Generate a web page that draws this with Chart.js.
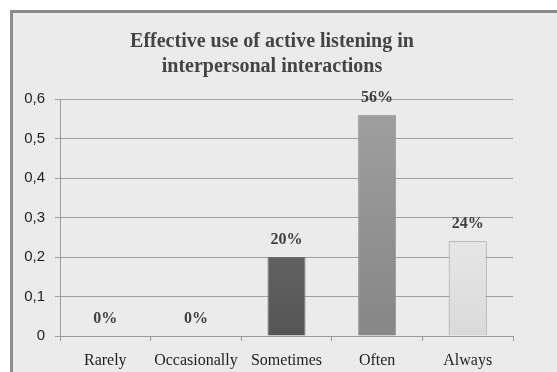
<!DOCTYPE html>
<html>
<head>
<meta charset="utf-8">
<script src="https://cdn.jsdelivr.net/npm/chart.js@4.4.1/dist/chart.umd.min.js"></script>
<style>
  html, body { margin: 0; padding: 0; background: #fff; }
  #frame {
    position: absolute; left: 10px; top: 10px;
    width: 544px; height: 359px;
    border-left: 3px solid #8c8c8c; border-top: 3px solid #8c8c8c;
    background: #ebebeb;
  }
  #wrap { position: absolute; left: 0; top: 0; width: 544px; height: 359px; }
</style>
</head>
<body>
<div id="frame"><div id="wrap"><canvas id="chart"></canvas></div></div>
<script>
/* ===== DATA ===== */
const CATEGORIES = ["Rarely", "Occasionally", "Sometimes", "Often", "Always"];
const SHARES = [0, 0, 0.2, 0.56, 0.24];
const Y_TICKS = [0, 0.1, 0.2, 0.3, 0.4, 0.5, 0.6];
const TITLE = ["Effective use of active listening in", "interpersonal interactions"];

/* bar shading, top -> bottom */
const SHADES = [
  ["#8a8a8a", "#6a6a6a"],
  ["#8a8a8a", "#6a6a6a"],
  ["#7a7a7a", "#555555"],
  ["#a0a0a0", "#868686"],
  ["#f8f8f8", "#dadada"],
];
const EDGES = ["#777", "#777", "#6e6e6e", "#9a9a9a", "#999"];

function barGradient(ctx) {
  const chart = ctx.chart;
  const area = chart.chartArea;
  if (!area) return SHADES[ctx.dataIndex][1];
  const el = ctx.element;
  const top = el && isFinite(el.y) ? el.y : area.top;
  const bottom = chart.scales.y.getPixelForValue(0);
  if (bottom - top < 1) return SHADES[ctx.dataIndex][1];
  const g = chart.ctx.createLinearGradient(0, top, 0, bottom);
  g.addColorStop(0, SHADES[ctx.dataIndex][0]);
  g.addColorStop(1, SHADES[ctx.dataIndex][1]);
  return g;
}

/* title sits a little right of the full-width centre */
const titleNudge = {
  id: "titleNudge",
  afterLayout(chart) {
    if (chart.titleBlock) chart.titleBlock.left = 18;
  },
};

/* ===== VALUE LABELS ===== */
const valueLabels = {
  id: "valueLabels",
  afterDatasetsDraw(chart) {
    const c = chart.ctx;
    const meta = chart.getDatasetMeta(0);
    c.save();
    c.font = "bold 16px 'Liberation Serif', 'Times New Roman', serif";
    c.fillStyle = "#404040";
    c.textAlign = "center";
    c.textBaseline = "middle";
    meta.data.forEach((bar, i) => {
      c.fillText(Math.round(SHARES[i] * 100) + "%", bar.x, bar.y - 17);
    });
    c.restore();
  },
};

new Chart(document.getElementById("chart"), {
  type: "bar",
  data: {
    labels: CATEGORIES,
    datasets: [{
      data: SHARES,
      backgroundColor: barGradient,
      borderColor: EDGES,
      borderWidth: 1,
      borderSkipped: "bottom",
      barPercentage: 0.42,
      categoryPercentage: 1,
    }],
  },
  options: {
    responsive: true,
    maintainAspectRatio: false,
    animation: false,
    layout: { padding: { left: 0, right: 44, top: 0, bottom: 0 } },
    plugins: {
      legend: { display: false },
      tooltip: { enabled: false },
      title: {
        display: true,
        text: TITLE,
        color: "#444",
        font: { family: "'Liberation Serif', 'Times New Roman', serif", size: 20, weight: "bold", lineHeight: 1.25 },
        padding: { top: 16, bottom: 20 },
      },
    },
    scales: {
      x: {
        grid: { offset: true, drawOnChartArea: false, color: "#9a9a9a", tickLength: 5 },
        border: { color: "#9a9a9a" },
        ticks: {
          color: "#1e1e1e",
          font: { family: "'Liberation Serif', 'Times New Roman', serif", size: 16 },
          padding: 10,
          maxRotation: 0,
        },
        afterFit: (s) => { s.height = 36; },
      },
      y: {
        min: 0,
        max: 0.6,
        afterBuildTicks: (s) => { s.ticks = Y_TICKS.map((v) => ({ value: v })); },
        grid: { color: "#a0a0a0", tickLength: 5 },
        border: { color: "#9a9a9a" },
        ticks: {
          color: "#1e1e1e",
          font: { family: "'Liberation Sans', Arial, sans-serif", size: 15 },
          padding: 10,
          callback: (v) => String(Math.round(v * 10) / 10).replace(".", ","),
        },
        afterFit: (s) => { s.width = 47; },
      },
    },
  },
  plugins: [titleNudge, valueLabels],
});
</script>
</body>
</html>
